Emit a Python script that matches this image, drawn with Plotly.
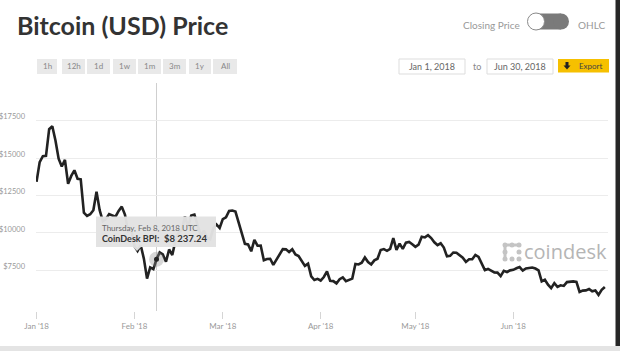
import plotly.graph_objects as go
import pandas as pd

# ---------------- data ----------------
start_date = "2018-01-01"
prices = [
    # Jan
    13412, 14740, 15134, 15155, 16937, 17135, 16178, 14970, 14439, 14891,
    13287, 13813, 14188, 13619, 13585, 11348, 11141, 11250, 11514, 12760,
    11524, 10780, 10930, 11260, 11168, 11081, 11468, 11758, 11223, 10117, 10222,
    # Feb
    9115, 8786, 9174, 8277, 6939, 7688, 7575, 8237.24, 8689, 8556,
    8070, 8891, 8516, 9478, 10016, 10178, 11092, 10396, 11159, 11225,
    10437, 9830, 10150, 9682, 9586, 10313, 10569, 10326,
    # Mar
    10920, 11039, 11464, 11497, 11429, 10706, 9910, 9271, 9227, 8770,
    9533, 9142, 9151, 8166, 8251, 8270, 7857, 8196, 8594, 8916,
    8899, 8720, 8903, 8560, 8456, 8137, 7794, 7947, 7089, 6844, 6926,
    # Apr
    6814, 7049, 7420, 6794, 6774, 6620, 6902, 7022, 6771, 6831,
    6939, 7916, 7890, 8004, 8355, 8051, 7891, 8164, 8273, 8859,
    8917, 8800, 8935, 9651, 8865, 9282, 8929, 9346, 9398, 9246,
    # May
    9068, 9215, 9739, 9696, 9843, 9654, 9373, 9186, 9304, 9020,
    8429, 8465, 8690, 8671, 8478, 8343, 8061, 8241, 8236, 8522,
    8395, 7998, 7506, 7587, 7459, 7352, 7345, 7110, 7461, 7385, 7494,
    # Jun
    7530, 7633, 7712, 7481, 7626, 7653, 7685, 7617, 7494, 6760,
    6862, 6541, 6304, 6637, 6385, 6496, 6453, 6708, 6736, 6754,
    6719, 6046, 6139, 6152, 6249, 6090, 6143, 5856, 6193, 6385,
]
dates = pd.date_range(start_date, periods=len(prices), freq="D")

y_tick_vals = [7500, 10000, 12500, 15000, 17500, 20000]
y_tick_text = ["$7500", "$10000", "$12500", "$15000", "$17500", ""]
x_tick_vals = ["2018-01-01", "2018-02-01", "2018-03-01", "2018-04-01", "2018-05-01", "2018-06-01"]
x_tick_text = ["Jan '18", "Feb '18", "Mar '18", "Apr '18", "May '18", "Jun '18"]
range_buttons = ["1h", "12h", "1d", "1w", "1m", "3m", "1y", "All"]
hover_index = 38  # Feb 8

# ---------------- layout helpers ----------------
W, H = 620, 351
L, R, T, B = 36, 12, 83, 40
PW, PH = W - L - R, H - T - B


def PX(x):
    return (x - L) / PW


def PY(y):
    return (H - B - y) / PH


shapes = []
annotations = []

# hover crosshair
hdate = dates[hover_index]
hval = prices[hover_index]
shapes.append(dict(type="line", xref="x", yref="paper", x0=hdate, x1=hdate, y0=0, y1=1,
                   line=dict(color="#cfcfcf", width=1), layer="below"))

fig = go.Figure()
fig.add_trace(go.Scatter(x=dates, y=prices, mode="lines",
                         line=dict(color="#222222", width=2.6), hoverinfo="skip"))
# hover halo + point
fig.add_trace(go.Scatter(x=[hdate], y=[hval], mode="markers",
                         marker=dict(size=15, color="rgba(140,140,140,0.35)"), hoverinfo="skip"))
fig.add_trace(go.Scatter(x=[hdate], y=[hval], mode="markers",
                         marker=dict(size=5, color="#222222"), hoverinfo="skip"))

# tooltip box
shapes.append(dict(type="rect", xref="paper", yref="paper", x0=PX(96), x1=PX(216), y0=PY(247), y1=PY(216.5),
                   fillcolor="rgba(226,226,226,0.97)", line=dict(width=0), layer="above"))
shapes.append(dict(type="path", xref="paper", yref="paper",
                   path=f"M {PX(133)} {PY(247)} L {PX(141)} {PY(247)} L {PX(137)} {PY(251)} Z",
                   fillcolor="rgba(226,226,226,0.97)", line=dict(width=0), layer="above"))
annotations.append(dict(x=PX(100), y=PY(227.5), xref="paper", yref="paper", xanchor="left", yanchor="middle",
                        text=hdate.strftime("%A, %b ") + str(hdate.day) + hdate.strftime(", %Y UTC"),
                        showarrow=False, font=dict(family="Lato", size=8, color="#666666")))
annotations.append(dict(x=PX(100), y=PY(238.5), xref="paper", yref="paper", xanchor="left", yanchor="middle",
                        text="<b>CoinDesk BPI:</b>", showarrow=False,
                        font=dict(family="Lato", size=9, color="#333333")))
annotations.append(dict(x=PX(210), y=PY(238.5), xref="paper", yref="paper", xanchor="right", yanchor="middle",
                        text="<b>$" + f"{hval:,.2f}".replace(",", " ") + "</b>", showarrow=False,
                        font=dict(family="Lato", size=9.5, color="#333333")))

# title
annotations.append(dict(x=PX(15), y=PY(25), xref="paper", yref="paper", xanchor="left", yanchor="middle",
                        text="<b>Bitcoin (USD) Price</b>", showarrow=False,
                        font=dict(family="Lato", size=25, color="#333333")))

# range buttons
btn_x = [(37, 57), (62, 85), (87, 110), (113, 136), (138, 161), (163, 186), (189, 211), (213, 237)]
for lbl, (a, b) in zip(range_buttons, btn_x):
    shapes.append(dict(type="rect", xref="paper", yref="paper", x0=PX(a), x1=PX(b), y0=PY(74), y1=PY(59),
                       fillcolor="#e9e9e9", line=dict(width=0)))
    annotations.append(dict(x=PX((a + b) / 2), y=PY(66.5), xref="paper", yref="paper", xanchor="center",
                            yanchor="middle", text=lbl, showarrow=False,
                            font=dict(family="Lato", size=8, color="#888888")))

# toggle
annotations.append(dict(x=PX(522), y=PY(24.5), xref="paper", yref="paper", xanchor="right", yanchor="middle",
                        text="Closing Price", showarrow=False, font=dict(family="Lato", size=10, color="#999999")))
annotations.append(dict(x=PX(576), y=PY(24.5), xref="paper", yref="paper", xanchor="left", yanchor="middle",
                        text="OHLC", showarrow=False, font=dict(family="Lato", size=10, color="#999999")))
shapes.append(dict(type="rect", xref="paper", yref="paper", x0=PX(535), x1=PX(561), y0=PY(29.5), y1=PY(13.5),
                   fillcolor="#7a7a7a", line=dict(width=0)))
shapes.append(dict(type="circle", xref="paper", yref="paper", x0=PX(553), x1=PX(569), y0=PY(29.5), y1=PY(13.5),
                   fillcolor="#7a7a7a", line=dict(width=0)))
shapes.append(dict(type="circle", xref="paper", yref="paper", x0=PX(527.5), x1=PX(544.5), y0=PY(30), y1=PY(13),
                   fillcolor="#ffffff", line=dict(color="#8a8a8a", width=1)))

# date boxes
for (a, b), txt in [((399, 465), "Jan 1, 2018"), ((487, 553), "Jun 30, 2018")]:
    shapes.append(dict(type="rect", xref="paper", yref="paper", x0=PX(a), x1=PX(b), y0=PY(74), y1=PY(59),
                       fillcolor="#ffffff", line=dict(color="#dddddd", width=1)))
    annotations.append(dict(x=PX((a + b) / 2), y=PY(66.5), xref="paper", yref="paper", xanchor="center",
                            yanchor="middle", text=txt, showarrow=False,
                            font=dict(family="Lato", size=9, color="#666666")))
annotations.append(dict(x=PX(477), y=PY(66.5), xref="paper", yref="paper", xanchor="center", yanchor="middle",
                        text="to", showarrow=False, font=dict(family="Lato", size=9, color="#888888")))

# export button
shapes.append(dict(type="rect", xref="paper", yref="paper", x0=PX(558), x1=PX(609), y0=PY(72.5), y1=PY(59),
                   fillcolor="#f6c000", line=dict(width=0)))
shapes.append(dict(type="path", xref="paper", yref="paper",
                   path=(f"M {PX(565.5)} {PY(62)} L {PX(568.5)} {PY(62)} L {PX(568.5)} {PY(65.5)} "
                         f"L {PX(570.5)} {PY(65.5)} L {PX(567)} {PY(69.5)} L {PX(563.5)} {PY(65.5)} "
                         f"L {PX(565.5)} {PY(65.5)} Z"),
                   fillcolor="#222222", line=dict(width=0)))
annotations.append(dict(x=PX(591), y=PY(66), xref="paper", yref="paper", xanchor="center", yanchor="middle",
                        text="Export", showarrow=False, font=dict(family="Lato", size=8, color="#444444")))

# coindesk watermark
logo_dots = [(0, 0), (1, 0), (2, 0), (0, 1), (0, 2), (1, 2), (2, 1), (2, 2)]
for cx, cy in logo_dots:
    x0 = 505 + cx * 7
    y0 = 245 + cy * 7
    shapes.append(dict(type="circle", xref="paper", yref="paper", x0=PX(x0 - 2.5), x1=PX(x0 + 2.5),
                       y0=PY(y0 + 2.5), y1=PY(y0 - 2.5), fillcolor="#c4c4c4", line=dict(width=0)))
shapes.append(dict(type="rect", xref="paper", yref="paper", x0=PX(503.5), x1=PX(506.5), y0=PY(259), y1=PY(245),
                   fillcolor="#c4c4c4", line=dict(width=0)))
shapes.append(dict(type="rect", xref="paper", yref="paper", x0=PX(505), x1=PX(519), y0=PY(246.5), y1=PY(243.5),
                   fillcolor="#c4c4c4", line=dict(width=0)))
annotations.append(dict(x=PX(609), y=PY(251), xref="paper", yref="paper", xanchor="right", yanchor="middle",
                        text="coindesk", showarrow=False, font=dict(family="Open Sans", size=20, color="#b5b5b5")))

# page edges
shapes.append(dict(type="rect", xref="paper", yref="paper", x0=PX(0), x1=PX(620), y0=PY(351), y1=PY(346),
                   fillcolor="#e4e4e4", line=dict(width=0)))
shapes.append(dict(type="rect", xref="paper", yref="paper", x0=PX(615.5), x1=PX(620), y0=PY(346), y1=PY(0),
                   fillcolor="#262626", line=dict(width=0)))

fig.update_layout(
    width=W, height=H,
    margin=dict(l=L, r=R, t=T, b=B, autoexpand=False),
    paper_bgcolor="#ffffff", plot_bgcolor="#ffffff",
    showlegend=False,
    shapes=shapes, annotations=annotations,
    xaxis=dict(range=["2017-12-31 20:00", "2018-07-01 00:00"], tickvals=x_tick_vals, ticktext=x_tick_text,
               showgrid=False, zeroline=False, showline=False, ticks="outside", ticklen=7,
               tickcolor="#d5d5d5", tickwidth=1, automargin=False,
               tickfont=dict(family="Lato", size=8, color="#999999")),
    yaxis=dict(range=[4774, 20030], tickvals=y_tick_vals, ticktext=y_tick_text,
               showgrid=True, gridcolor="#ececec", gridwidth=1, zeroline=False, showline=False,
               ticks="", ticklabelstandoff=10, ticklabelshift=-4, automargin=False,
               tickfont=dict(family="Lato", size=7.5, color="#999999")),
)

fig.write_html("out.html")
